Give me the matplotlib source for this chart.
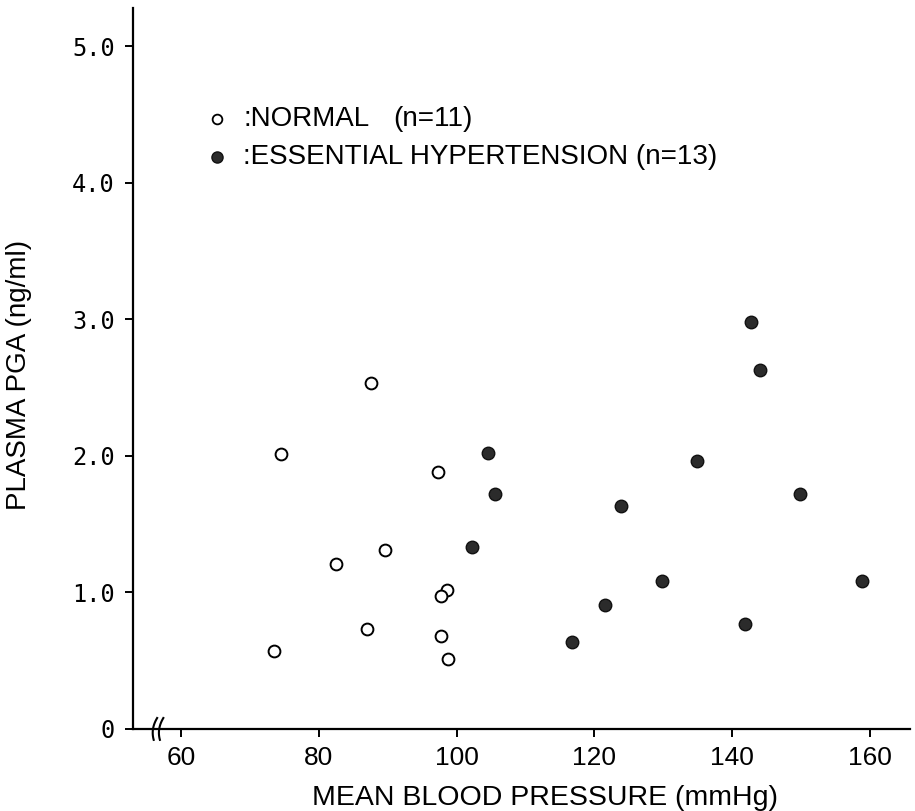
import matplotlib

matplotlib.use("Agg")
import matplotlib.pyplot as plt
import numpy as np

# Mean blood pressure (mmHg) vs plasma PGA (ng/ml)
normal_bp = [87.5, 74.5, 97.3, 89.6, 82.5, 98.6, 97.7, 86.9, 97.7, 98.8, 73.5]
normal_pga = [2.53, 2.01, 1.88, 1.31, 1.21, 1.02, 0.97, 0.73, 0.68, 0.51, 0.57]

ht_bp = [102.2, 104.5, 105.6, 116.7, 121.5, 123.8, 129.8, 134.9, 142.7,
         144.0, 141.8, 149.8, 158.8]
ht_pga = [1.33, 2.02, 1.72, 0.64, 0.91, 1.63, 1.08, 1.96, 2.98,
          2.63, 0.77, 1.72, 1.08]

x_ticks = [60, 80, 100, 120, 140, 160]
y_ticks = [0, 1, 2, 3, 4, 5]
y_labels = ["0", "1.0", "2.0", "3.0", "4.0", "5.0"]

LABEL_FONT = ["Liberation Sans", "DejaVu Sans"]
TICK_FONT = ["DejaVu Sans Mono"]
NARROW_FONT = ["Liberation Sans Narrow", "Liberation Sans", "DejaVu Sans"]

fig = plt.figure(figsize=(9.15, 8.11), dpi=100)
ax = fig.add_axes([0.1454, 0.1012, 0.8490, 0.8890])

ax.plot(normal_bp, normal_pga, "o", ms=8.5, mfc="white", mec="black", mew=1.4,
        clip_on=False)
ax.plot(ht_bp, ht_pga, "o", ms=9, mfc="#2b2b2b", mec="#111111", mew=1.0,
        clip_on=False)

ax.set_xlim(53.0, 165.8)
ax.set_ylim(0, 5.28)

for side in ("top", "right"):
    ax.spines[side].set_visible(False)
for side in ("left", "bottom"):
    ax.spines[side].set_linewidth(1.6)

ax.set_xticks(x_ticks)
ax.set_xticklabels([str(v) for v in x_ticks], family=NARROW_FONT, fontsize=19)
ax.set_yticks(y_ticks)
ax.set_yticklabels(y_labels, family=TICK_FONT, fontsize=17)
ax.tick_params(axis="both", direction="out", length=6, width=1.4)
ax.tick_params(axis="x", pad=6)
ax.tick_params(axis="y", pad=7)

# axis break on the x axis, two small arcs
t = np.linspace(-1, 1, 15)
for x0 in (55.9, 56.8):
    ax.plot(x0 + 0.35 * t ** 2 + 0.25 * t, 0.08 * t, color="black", lw=1.5,
            clip_on=False)

fig.text(0.5956, 0.007, "MEAN BLOOD PRESSURE (mmHg)", family=LABEL_FONT,
         fontsize=20.5, ha="center", va="baseline")
fig.text(0.021, 0.5376, "PLASMA PGA (ng/ml)", family=LABEL_FONT,
         fontsize=20, rotation=90, ha="center", va="center")

# key in the upper left
ax.plot([65.2], [4.47], "o", ms=7, mfc="white", mec="black", mew=1.3,
        clip_on=False)
ax.plot([65.2], [4.19], "o", ms=8, mfc="#2b2b2b", mec="#111111", mew=1.0,
        clip_on=False)
ax.text(69.0, 4.47, ":NORMAL", family=LABEL_FONT, fontsize=20,
        va="center", ha="left")
ax.text(90.8, 4.47, "(n=11)", family=LABEL_FONT, fontsize=20,
        va="center", ha="left")
ax.text(69.0, 4.19, ":ESSENTIAL HYPERTENSION (n=13)", family=LABEL_FONT,
        fontsize=20, va="center", ha="left")

fig.savefig("out.png", dpi=100)
